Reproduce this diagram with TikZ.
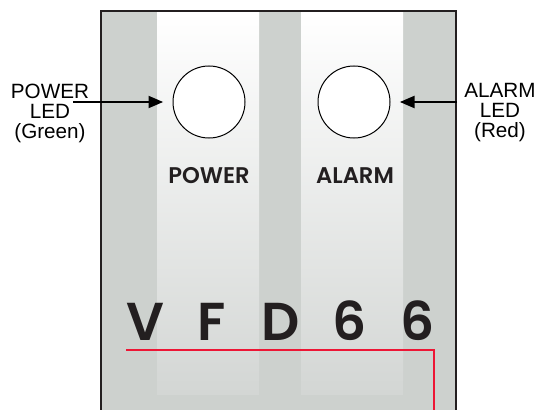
\documentclass[tikz,border=0pt]{standalone}
\usepackage{fontspec}
\setmainfont{Liberation Sans}
\newfontfamily\panelfont{Poppins}[BoldFont={Poppins SemiBold}]
\usetikzlibrary{arrows.meta}
\tikzset{every picture/.style={line width=0.75pt}}
\definecolor{panelgray}{RGB}{205,209,206}
\definecolor{stripgray}{RGB}{211,214,212}
\definecolor{linered}{RGB}{237,22,53}
\definecolor{edgeblack}{RGB}{35,31,32}
\tikzset{
  ledcircle/.style={circle, draw=black, line width=0.75pt, fill=white, inner sep=0pt, minimum size=54pt},
  ledlabel/.style={align=center, inner sep=0pt, font=\fontsize{15.5}{15}\selectfont},
  ledarrow/.style={line width=1.5pt, -{Triangle[length=11pt,width=9pt]}, shorten >=7pt},
  paneltext/.style={anchor=base, inner sep=0pt, font=\panelfont\bfseries\fontsize{17}{20}\selectfont, text=edgeblack},
  bigletter/.style={anchor=base, inner sep=0pt, font=\panelfont\bfseries\fontsize{40}{44}\selectfont, text=edgeblack}
}

\begin{document}
\begin{tikzpicture}[x=0.75pt,y=0.75pt,yscale=-1,xscale=1]
\useasboundingbox (0,0) rectangle (542,410);

%Shape: Panel
\fill [panelgray] (101,11) rectangle (456,410);
%Shape: Light strips
\shade [top color=white, bottom color=stripgray] (157,12) rectangle (259,394);
\shade [top color=white, bottom color=stripgray] (301,12) rectangle (403,394);
%Straight Lines: panel edge
\draw [edgeblack, line width=1.5pt] (101,410) -- (101,11) -- (456,11) -- (456,410);

%Shape: LEDs
\node [ledcircle] (pwrled) at (209,102) {};
\node [ledcircle] (almled) at (354,102) {};

% Text Node
\node [paneltext] (pwrtxt) at (209,183) {POWER};
\node [paneltext] (almtxt) at (355,183) {ALARM};

% Text Node
\foreach \ch/\xx [count=\i] in {V/145,F/212,D/281,6/350,6/418}
  \node [bigletter] (vfd\i) at (\xx,340) {\ch};

%Straight Lines: red line
\coordinate (redstart) at (126,350);
\coordinate (redcorner) at (434,350);
\coordinate (redend) at (434,410);
\draw [linered, line width=2pt] (redstart) -- (redcorner) -- (redend);

% Text Node
\node [ledlabel] (pwrlbl) at (50,113) {POWER\\LED\\(Green)};
\node [ledlabel] (almlbl) at (500,113) {ALARM\\LED\\(Red)};

%Straight Lines: arrows
\coordinate (pwrtail) at (73,102);
\coordinate (almtail) at (457,102);
\draw [ledarrow] (pwrtail) -- (pwrled.west);
\draw [ledarrow] (almtail) -- (almled.east);

\end{tikzpicture}
\end{document}
